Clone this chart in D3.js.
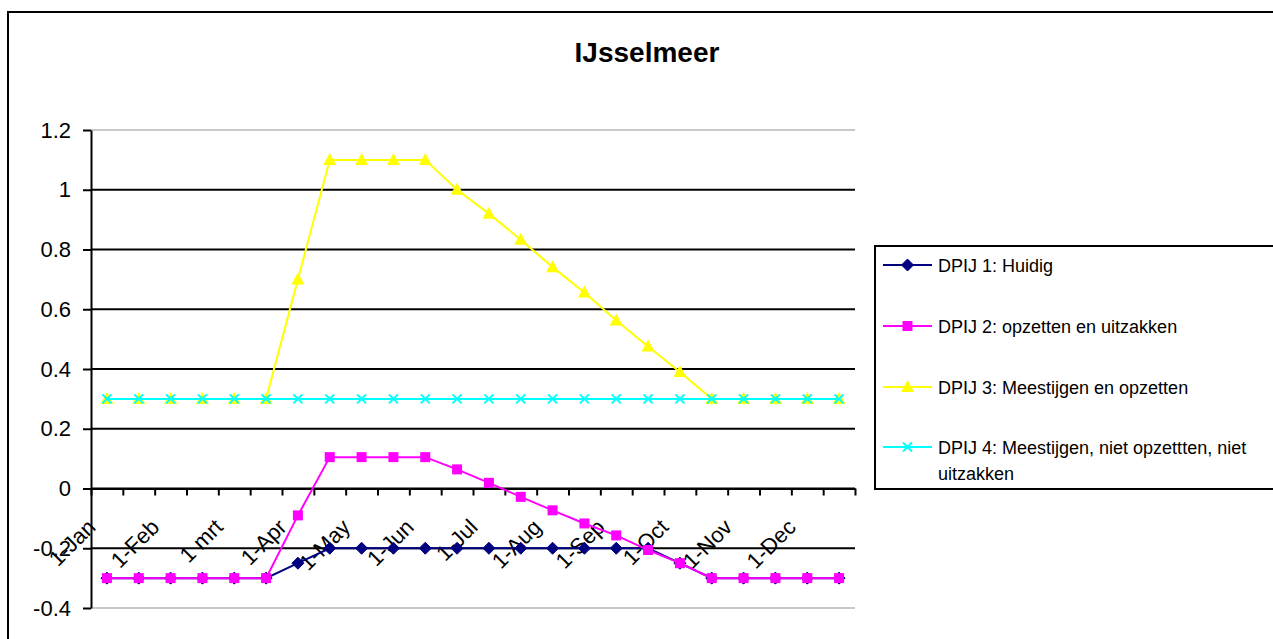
<!DOCTYPE html>
<html>
<head>
<meta charset="utf-8">
<script src="https://cdn.jsdelivr.net/npm/d3@7"></script>
<style>
  html, body { margin: 0; padding: 0; background: #fff; }
  svg { display: block; font-family: "Liberation Sans", Arial, sans-serif; }
</style>
</head>
<body>
<svg id="chart" width="1273" height="639"></svg>
<script>
// Bi-weekly dates through the year
const categories = ["1-Jan","15-Jan","1-Feb","15-Feb","1 mrt","15 mrt","1-Apr","15-Apr",
  "1-May","15-May","1-Jun","15-Jun","1-Jul","15-Jul","1-Aug","15-Aug",
  "1-Sep","15-Sep","1-Oct","15-Oct","1-Nov","15-Nov","1-Dec","15-Dec"];

// Water level per scenario
const huidig = [-0.3,-0.3,-0.3,-0.3,-0.3,-0.3,-0.25,-0.2,-0.2,-0.2,-0.2,-0.2,
  -0.2,-0.2,-0.2,-0.2,-0.2,-0.2,-0.25,-0.3,-0.3,-0.3,-0.3,-0.3];
const opzettenUitzakken = [-0.3,-0.3,-0.3,-0.3,-0.3,-0.3,-0.09,0.105,0.105,0.105,0.105,0.064,
  0.019,-0.028,-0.073,-0.117,-0.157,-0.206,-0.25,-0.3,-0.3,-0.3,-0.3,-0.3];
const meestijgenOpzetten = [0.3,0.3,0.3,0.3,0.3,0.3,0.7,1.1,1.1,1.1,1.1,1.0,
  0.92,0.833,0.741,0.656,0.562,0.475,0.39,0.3,0.3,0.3,0.3,0.3];
const meestijgenNiet = [0.3,0.3,0.3,0.3,0.3,0.3,0.3,0.3,0.3,0.3,0.3,0.3,
  0.3,0.3,0.3,0.3,0.3,0.3,0.3,0.3,0.3,0.3,0.3,0.3];

const seriesNames = ["DPIJ 1: Huidig","DPIJ 2: opzetten en uitzakken",
  "DPIJ 3: Meestijgen en opzetten","DPIJ 4: Meestijgen, niet opzettten, niet uitzakken"];

const yTicks = [-0.4,-0.2,0,0.2,0.4,0.6,0.8,1,1.2];
const yTickLabels = ["-0.4","-0.2","0","0.2","0.4","0.6","0.8","1","1.2"];

const titleText = "IJsselmeer";

const series = [
  { name: seriesNames[0], values: huidig, color: "#000080", marker: "diamond" },
  { name: seriesNames[1], values: opzettenUitzakken, color: "#FF00FF", marker: "square" },
  { name: seriesNames[2], values: meestijgenOpzetten, color: "#FFFF00", marker: "triangle" },
  { name: seriesNames[3], values: meestijgenNiet, color: "#00FFFF", marker: "cross" }
];

const svg = d3.select("#chart");
const plot = { left: 91, right: 855, top: 130, bottom: 608 };

// Chart frame
svg.append("rect").attr("x", 8).attr("y", 12).attr("width", 1320).attr("height", 700)
  .attr("fill", "#fff").attr("stroke", "#000").attr("stroke-width", 2);

// Title
svg.append("text").attr("x", 647).attr("y", 62).attr("text-anchor", "middle")
  .attr("font-size", 28).attr("font-weight", "bold").text(titleText);

const x = d3.scaleBand().domain(d3.range(categories.length)).range([plot.left, plot.right]).padding(0);
const xEdge = d3.scaleLinear().domain([0, categories.length]).range([plot.left, plot.right]);
const y = d3.scaleLinear().domain([-0.4, 1.2]).range([plot.bottom, plot.top]);
const cx = i => x(i) + x.bandwidth() / 2;

// Plot area top and bottom borders
svg.append("line").attr("x1", plot.left).attr("x2", plot.right).attr("y1", plot.top).attr("y2", plot.top)
  .attr("stroke", "#c8c8c8").attr("stroke-width", 2);
svg.append("line").attr("x1", plot.left).attr("x2", plot.right).attr("y1", plot.bottom).attr("y2", plot.bottom)
  .attr("stroke", "#c8c8c8").attr("stroke-width", 2);

// Horizontal gridlines
svg.append("g").selectAll("line")
  .data(yTicks.filter(v => v > -0.4 && v < 1.2))
  .join("line")
  .attr("x1", plot.left).attr("x2", plot.right)
  .attr("y1", d => y(d)).attr("y2", d => y(d))
  .attr("stroke", "#000").attr("stroke-width", 2);

// Y axis
const yAxis = svg.append("g").attr("transform", `translate(${plot.left},0)`)
  .call(d3.axisLeft(y).tickValues(yTicks).tickFormat((d, i) => yTickLabels[i])
    .tickSize(8).tickSizeOuter(0).tickPadding(12));
yAxis.select(".domain").attr("stroke", "#000").attr("stroke-width", 2);
yAxis.selectAll(".tick line").attr("stroke", "#000").attr("stroke-width", 2);
yAxis.selectAll(".tick text").attr("font-size", 22).attr("fill", "#000")
  .attr("font-family", "'Liberation Sans', Arial, sans-serif");

// X axis at zero, ticks between categories
const xAxis = svg.append("g").attr("transform", `translate(0,${y(0)})`)
  .call(d3.axisBottom(xEdge).tickValues(d3.range(0, categories.length + 1))
    .tickFormat("").tickSize(7).tickSizeOuter(0));
xAxis.select(".domain").attr("stroke", "#000").attr("stroke-width", 2);
xAxis.selectAll(".tick line").attr("stroke", "#000").attr("stroke-width", 2);

// Category labels (every other date), rotated
svg.append("g").selectAll("text")
  .data(categories.map((c, i) => ({ c, i })).filter(d => d.i % 2 === 0))
  .join("text")
  .attr("transform", d => `translate(${cx(d.i) - 10},${y(0) + 40}) rotate(-45)`)
  .attr("text-anchor", "end")
  .attr("font-size", 22)
  .text(d => d.c);

// Marker shapes
function drawMarker(g, type, color) {
  if (type === "diamond") {
    g.append("path").attr("d", "M0,-6L6,0L0,6L-6,0Z").attr("fill", color).attr("stroke", color);
  } else if (type === "square") {
    g.append("rect").attr("x", -5).attr("y", -5).attr("width", 10).attr("height", 10).attr("fill", color);
  } else if (type === "triangle") {
    g.append("path").attr("d", "M0,-7L6.5,5L-6.5,5Z").attr("fill", color);
  } else if (type === "cross") {
    g.append("path").attr("d", "M-4.5,-4.5L4.5,4.5M-4.5,4.5L4.5,-4.5")
      .attr("stroke", color).attr("stroke-width", 2).attr("fill", "none");
  }
}

const line = d3.line().x((d, i) => cx(i)).y(d => y(d));

series.forEach(s => {
  const g = svg.append("g");
  g.append("path").attr("d", line(s.values)).attr("fill", "none")
    .attr("stroke", s.color).attr("stroke-width", 2);
  s.values.forEach((v, i) => {
    const m = g.append("g").attr("transform", `translate(${cx(i)},${y(v)})`);
    drawMarker(m, s.marker, s.color);
  });
});

// Legend
const legend = svg.append("g");
legend.append("rect").attr("x", 875).attr("y", 246).attr("width", 500).attr("height", 243)
  .attr("fill", "#fff").attr("stroke", "#000").attr("stroke-width", 2);
const legendY = [265, 326, 387, 447];
series.forEach((s, k) => {
  const ly = legendY[k];
  legend.append("line").attr("x1", 883).attr("x2", 932).attr("y1", ly).attr("y2", ly)
    .attr("stroke", s.color).attr("stroke-width", 2);
  const m = legend.append("g").attr("transform", `translate(907.5,${ly})`);
  drawMarker(m, s.marker, s.color);
  const t = legend.append("text").attr("x", 938).attr("y", ly + 6.5).attr("font-size", 18);
  if (k === 3) {
    t.append("tspan").attr("x", 938).text("DPIJ 4: Meestijgen, niet opzettten, niet");
    t.append("tspan").attr("x", 938).attr("dy", 26).text("uitzakken");
  } else {
    t.text(s.name);
  }
});
</script>
</body>
</html>
